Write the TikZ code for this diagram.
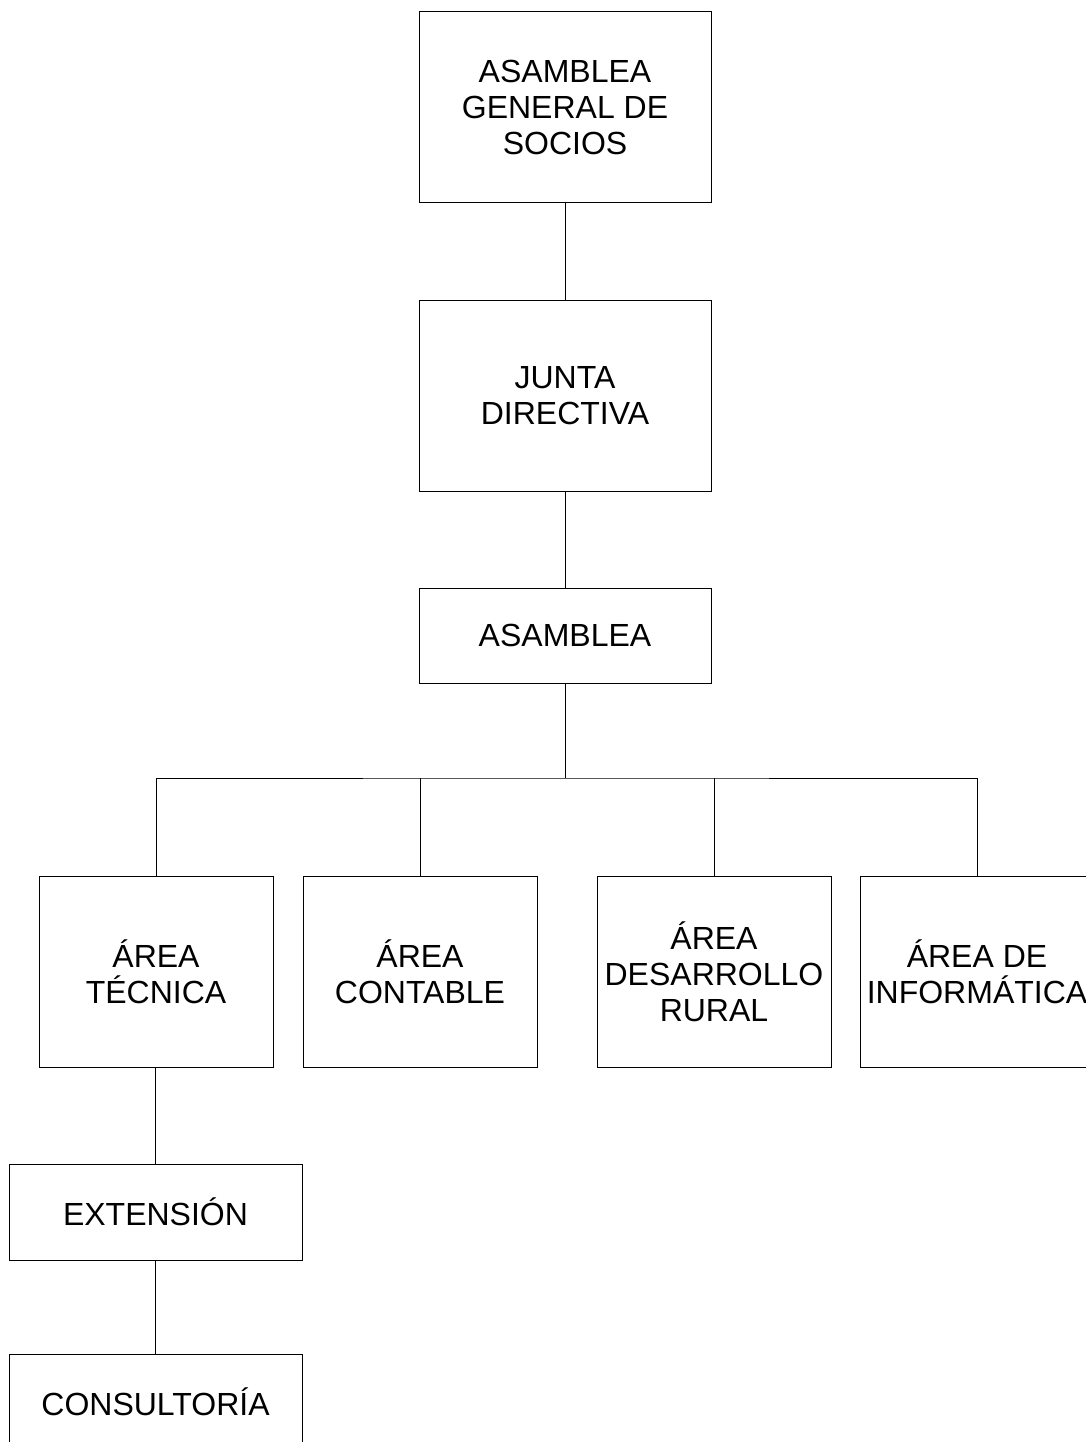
\documentclass[tikz,border=0pt]{standalone}
\usepackage{fontspec}
\setmainfont{Liberation Sans}
\usepackage{tikz}

\tikzset{
  caja/.style={draw, line width=1pt, align=center, inner sep=0pt,
    font=\fontsize{32}{36}\selectfont},
  cajaalta/.style={caja, minimum width=292pt, minimum height=191pt},
  cajabaja/.style={caja, minimum width=293pt, minimum height=96pt},
  cajaarea/.style={caja, minimum width=234pt, minimum height=191pt},
  linea/.style={line width=1pt}
}

\begin{document}
\begin{tikzpicture}[x=1pt,y=-1pt]
    \useasboundingbox (0,0) rectangle (1085,1442);
    % Direccion
    \node[cajaalta] (general) at (565,107.5) {ASAMBLEA\\GENERAL DE\\SOCIOS};
    \node[cajaalta] (junta) at (565,395.5) {JUNTA\\DIRECTIVA};
    \node[caja, minimum width=292pt, minimum height=95pt] (asamblea) at (565,635.5) {ASAMBLEA};
    % Areas
    \node[cajaarea] (tecnica) at (156,971.5) {ÁREA\\TÉCNICA};
    \node[cajaarea] (contable) at (420,971.5) {ÁREA\\CONTABLE};
    \node[cajaarea] (rural) at (714,971.5) {ÁREA\\DESARROLLO\\RURAL};
    \node[cajaarea] (informatica) at (977,971.5) {ÁREA DE\\INFORMÁTICA};
    % Dependencias
    \node[cajabaja] (extension) at (155.5,1212) {EXTENSIÓN};
    \node[cajabaja] (consultoria) at (155.5,1402) {CONSULTORÍA};
    % Conexiones
    \coordinate (bus) at (565,778);
    \draw[linea] (general) -- (junta);
    \draw[linea] (junta) -- (asamblea);
    \draw[linea] (asamblea) -- (bus);
    \draw[linea] (tecnica.north) |- (bus) -| (informatica.north);
    \draw[linea] (contable.north) -- (contable.north |- bus);
    \draw[linea] (rural.north) -- (rural.north |- bus);
    \draw[linea] (extension.north |- tecnica.south) -- (extension.north);
    \draw[linea] (extension) -- (consultoria);
\end{tikzpicture}
\end{document}
